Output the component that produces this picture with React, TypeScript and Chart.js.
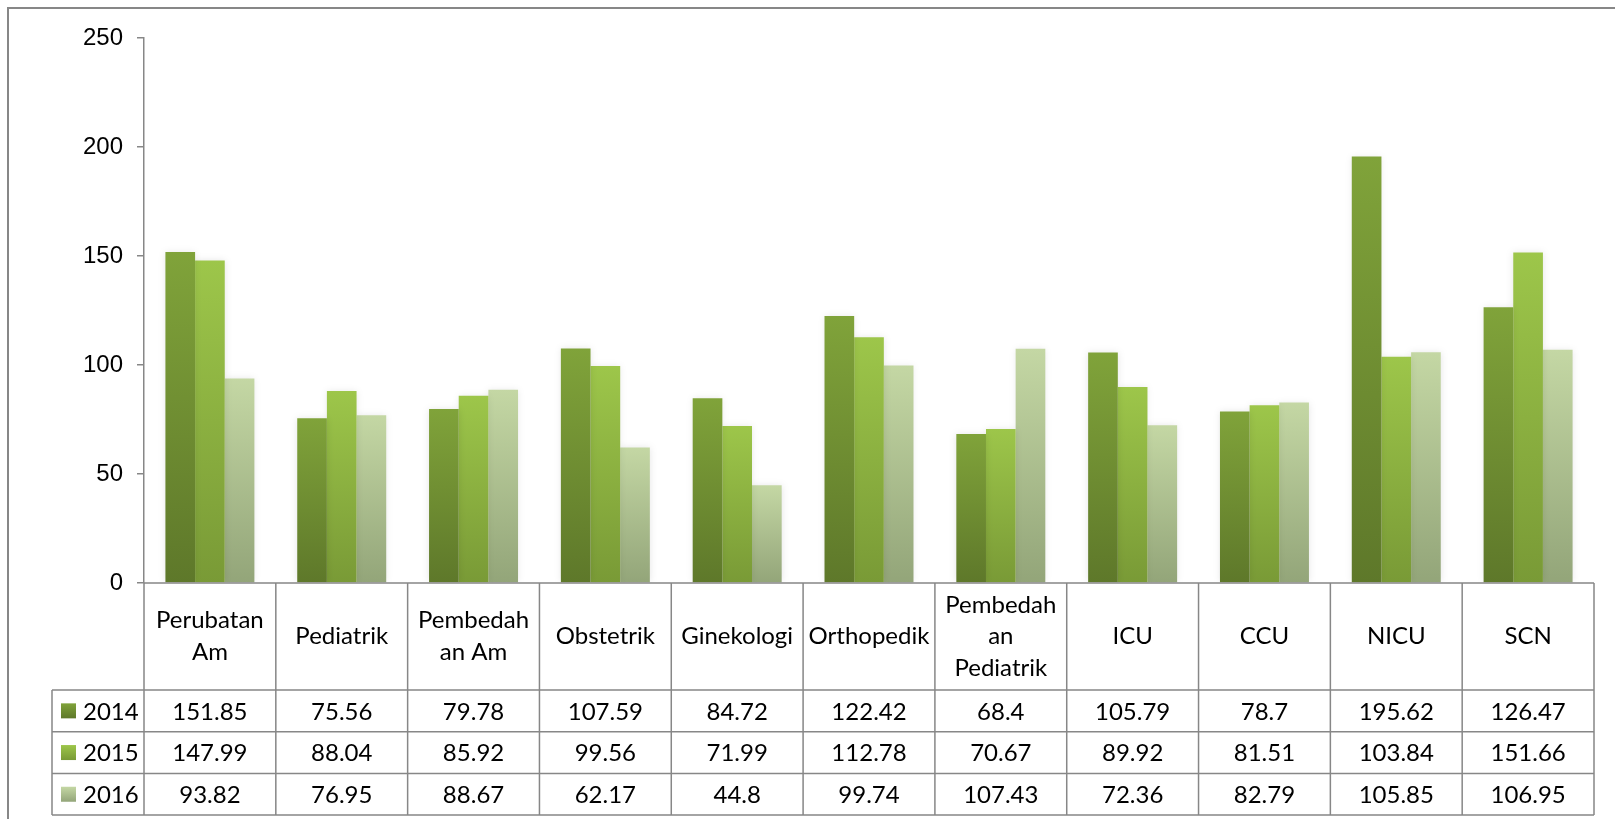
import React, { useEffect, useRef } from "react";
import { Chart, registerables } from "chart.js";

Chart.register(...registerables);

const categories: string[][] = [
  ["Perubatan", "Am"],
  ["Pediatrik"],
  ["Pembedah", "an Am"],
  ["Obstetrik"],
  ["Ginekologi"],
  ["Orthopedik"],
  ["Pembedah", "an", "Pediatrik"],
  ["ICU"],
  ["CCU"],
  ["NICU"],
  ["SCN"],
];

const seriesNames = ["2014", "2015", "2016"];
const values2014 = [151.85, 75.56, 79.78, 107.59, 84.72, 122.42, 68.4, 105.79, 78.7, 195.62, 126.47];
const values2015 = [147.99, 88.04, 85.92, 99.56, 71.99, 112.78, 70.67, 89.92, 81.51, 103.84, 151.66];
const values2016 = [93.82, 76.95, 88.67, 62.17, 44.8, 99.74, 107.43, 72.36, 82.79, 105.85, 106.95];
const yTicks = [0, 50, 100, 150, 200, 250];

const topColors = ["#80a33a", "#9dc64a", "#c4d7a4"];
const bottomColors = ["#5e782a", "#799a36", "#93a579"];

const LINE = "#878787";
const TABLE_FONT = "Lato, 'Open Sans', sans-serif";

export default function App() {
  const ref = useRef<HTMLCanvasElement | null>(null);

  useEffect(() => {
    if (!ref.current) return;
    const seriesValues = [values2014, values2015, values2016];

    const gradientFor = (i: number) => (c: any) => {
      const chart = c.chart;
      if (!chart.chartArea || c.type !== "data") return topColors[i];
      const ys = chart.scales.y;
      const v = c.raw as number;
      const top = ys.getPixelForValue(v);
      const base = ys.getPixelForValue(0);
      const g = chart.ctx.createLinearGradient(0, top, 0, base);
      g.addColorStop(0, topColors[i]);
      g.addColorStop(1, bottomColors[i]);
      return g;
    };

    const shadowPlugin = {
      id: "shadow",
      beforeDatasetsDraw(chart: any) {
        const ctx = chart.ctx;
        ctx.save();
        ctx.shadowColor = "rgba(0,0,0,0.10)";
        ctx.shadowBlur = 7;
        ctx.shadowOffsetX = 0;
        ctx.shadowOffsetY = 0;
      },
      afterDatasetsDraw(chart: any) {
        chart.ctx.restore();
      },
    };

    const tablePlugin = {
      id: "dataTable",
      afterDraw(chart: any) {
        const ctx = chart.ctx as CanvasRenderingContext2D;
        const area = chart.chartArea;
        const n = categories.length;
        const colW = (area.right - area.left) / n;
        const top = area.bottom;
        const headerBottom = top + 107;
        const rowH = 41.7;
        const keyLeft = 52;
        const right = area.right;

        ctx.save();
        // outer chart border
        ctx.strokeStyle = LINE;
        ctx.lineWidth = 2;
        ctx.beginPath();
        ctx.moveTo(8, 830);
        ctx.lineTo(8, 8);
        ctx.lineTo(1630, 8);
        ctx.stroke();

        // table lines
        ctx.lineWidth = 1.5;
        ctx.beginPath();
        ctx.moveTo(area.left, top);
        ctx.lineTo(right, top);
        for (let r = 0; r <= 3; r++) {
          const y = headerBottom + r * rowH;
          ctx.moveTo(keyLeft, y);
          ctx.lineTo(right, y);
        }
        for (let c = 0; c <= n; c++) {
          const x = area.left + c * colW;
          ctx.moveTo(x, top);
          ctx.lineTo(x, headerBottom + 3 * rowH);
        }
        ctx.moveTo(keyLeft, headerBottom);
        ctx.lineTo(keyLeft, headerBottom + 3 * rowH);
        ctx.stroke();

        // header labels
        ctx.fillStyle = "#000";
        ctx.textAlign = "center";
        ctx.textBaseline = "middle";
        ctx.font = `24px ${TABLE_FONT}`;
        const lh = 31.5;
        const headerMid = (top + headerBottom) / 2;
        categories.forEach((lines, i) => {
          const cx = area.left + (i + 0.5) * colW;
          const start = headerMid - ((lines.length - 1) * lh) / 2;
          lines.forEach((t, k) => ctx.fillText(t, cx, start + k * lh));
        });

        // rows
        seriesValues.forEach((vals, r) => {
          const yTop = headerBottom + r * rowH;
          const cy = yTop + rowH / 2;
          vals.forEach((v, i) => {
            const cx = area.left + (i + 0.5) * colW;
            ctx.textAlign = "center";
            ctx.fillText(String(v), cx, cy + 1);
          });
          // legend key
          const g = ctx.createLinearGradient(0, cy - 7.5, 0, cy + 7.5);
          g.addColorStop(0, topColors[r]);
          g.addColorStop(1, bottomColors[r]);
          ctx.fillStyle = g;
          ctx.fillRect(61, cy - 7.5, 15, 15);
          ctx.fillStyle = "#000";
          ctx.textAlign = "left";
          ctx.fillText(seriesNames[r], 83, cy + 1);
        });
        ctx.restore();
      },
    };

    const chart = new Chart(ref.current, {
      type: "bar",
      data: {
        labels: categories.map((l) => l.join(" ")),
        datasets: seriesValues.map((vals, i) => ({
          label: seriesNames[i],
          data: vals,
          backgroundColor: gradientFor(i),
          borderWidth: 0,
          categoryPercentage: 0.675,
          barPercentage: 1.0,
        })),
      },
      options: {
        animation: false,
        responsive: false,
        devicePixelRatio: 1,
        layout: { padding: { left: 0, top: 38, right: 21, bottom: 236 } },
        plugins: {
          legend: { display: false },
          tooltip: { enabled: false },
        },
        scales: {
          x: { display: false },
          y: {
            min: 0,
            max: 250,
            afterFit(scale: any) {
              scale.width = 144;
            },
            afterBuildTicks(scale: any) {
              scale.ticks = yTicks.map((v) => ({ value: v }));
            },
            ticks: {
              color: "#000",
              font: { family: "'Liberation Sans', Arial, sans-serif", size: 24 },
              padding: 14,
            },
            grid: {
              drawOnChartArea: false,
              drawTicks: true,
              tickLength: 7,
              color: LINE,
              lineWidth: 1.5,
            },
            border: { display: true, color: LINE, width: 1.5 },
          },
        },
      },
      plugins: [shadowPlugin, tablePlugin],
    });
    return () => chart.destroy();
  }, []);

  return (
    <div style={{ position: "absolute", left: 0, top: 0, width: 1615, height: 819, background: "#fff" }}>
      <canvas ref={ref} width={1615} height={819} style={{ display: "block" }} />
    </div>
  );
}
